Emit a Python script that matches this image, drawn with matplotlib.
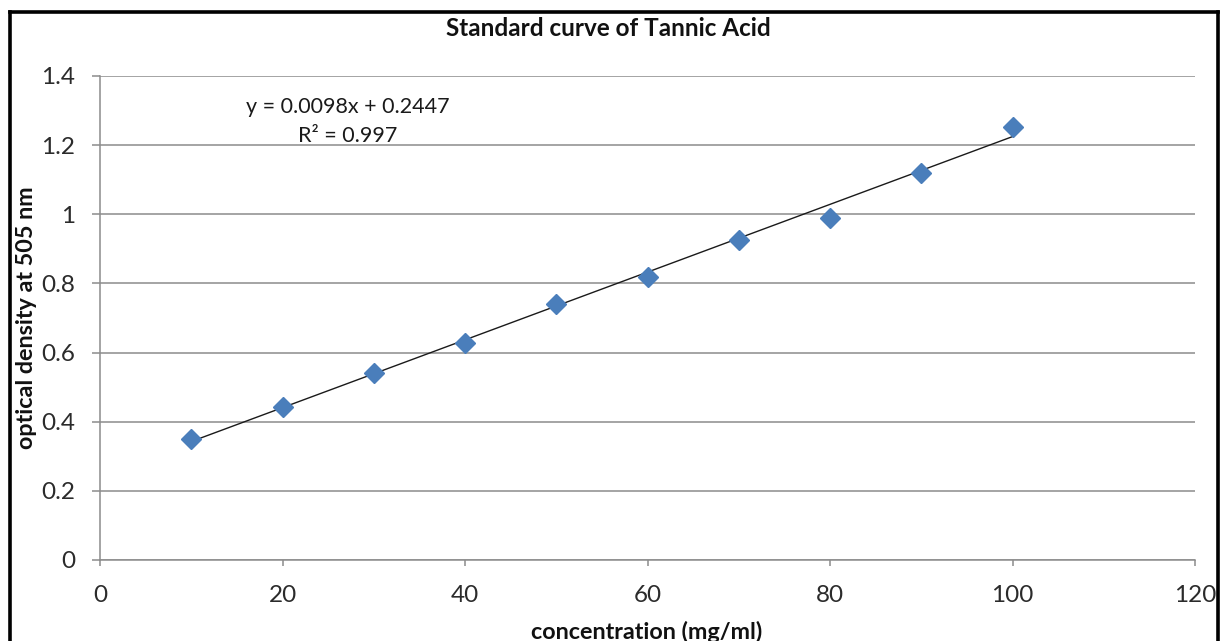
import matplotlib
matplotlib.use("Agg")
import matplotlib.pyplot as plt
from matplotlib.lines import Line2D
import numpy as np

plt.rcParams['font.family'] = ['Lato', 'DejaVu Sans']

concentration = [10, 20, 30, 40, 50, 60, 70, 80, 90, 100]
optical_density = [0.350, 0.443, 0.541, 0.628, 0.741, 0.819, 0.926, 0.989, 1.119, 1.253]
slope = 0.0098
intercept = 0.2447
r_squared = 0.997
x_ticks = [0, 20, 40, 60, 80, 100, 120]
y_ticks = [0, 0.2, 0.4, 0.6, 0.8, 1.0, 1.2, 1.4]
y_tick_labels = ['0', '0.2', '0.4', '0.6', '0.8', '1', '1.2', '1.4']

W, H = 1222, 641
fig = plt.figure(figsize=(W / 100, H / 100), dpi=100)
ax = fig.add_axes([100 / W, 1 - 560 / H, 1095 / W, 484 / H])

grid_c = '#8c8c8c'
ax.set_xlim(0, 120)
ax.set_ylim(0, 1.4)
ax.set_xticks(x_ticks)
ax.set_xticklabels([str(v) for v in x_ticks])
ax.set_yticks(y_ticks)
ax.set_yticklabels(y_tick_labels)
ax.yaxis.grid(True, color=grid_c, linewidth=1.1)
ax.set_axisbelow(True)
for s in ['top', 'right']:
    ax.spines[s].set_visible(False)
for s in ['left', 'bottom']:
    ax.spines[s].set_color(grid_c)
    ax.spines[s].set_linewidth(1.1)
ax.tick_params(axis='both', colors=grid_c, labelcolor='#2b2b2b', labelsize=17.5,
               width=1.1)
ax.tick_params(axis='y', length=6, pad=12)
ax.tick_params(axis='x', length=4, pad=14)

xs = np.array([concentration[0], concentration[-1]])
ax.plot(xs, slope * xs + intercept, color='#1a1a1a', linewidth=1.0, zorder=2)
ax.plot(concentration, optical_density, linestyle='none', marker='D',
        markersize=10, color='#4a7ebb', markeredgecolor='#4a7ebb', zorder=3,
        clip_on=False)

ax.text(348 / W, 1 - 107 / H, f'y = {slope}x + {intercept}', transform=fig.transFigure,
        ha='center', va='center', fontsize=15.5, color='#1a1a1a')
ax.text(348 / W, 1 - 136 / H, f'R\u00b2 = {r_squared}', transform=fig.transFigure,
        ha='center', va='center', fontsize=15.5, color='#1a1a1a')

fig.text(608 / W, 1 - 29 / H, 'Standard curve of Tannic Acid', ha='center', va='center',
         fontsize=17.5, fontweight='bold', color='#111111')
fig.text(647 / W, 1 - 632 / H, 'concentration (mg/ml)', ha='center', va='center',
         fontsize=16.8, fontweight='bold', color='#111111')
fig.text(27 / W, 1 - 318 / H, 'optical density at 505 nm', ha='center', va='center',
         rotation=90, fontsize=16.8, fontweight='bold', color='#111111')

# outer frame
lw = 2.6
fig.add_artist(Line2D([10 / W, 10 / W], [-0.05, 1 - 12 / H], color='black', linewidth=lw,
                      transform=fig.transFigure))
fig.add_artist(Line2D([10 / W, 1218 / W], [1 - 12 / H, 1 - 12 / H], color='black', linewidth=lw,
                      transform=fig.transFigure))
fig.add_artist(Line2D([1218 / W, 1218 / W], [-0.05, 1 - 12 / H], color='black', linewidth=lw,
                      transform=fig.transFigure))

fig.savefig('out.png', dpi=100)
